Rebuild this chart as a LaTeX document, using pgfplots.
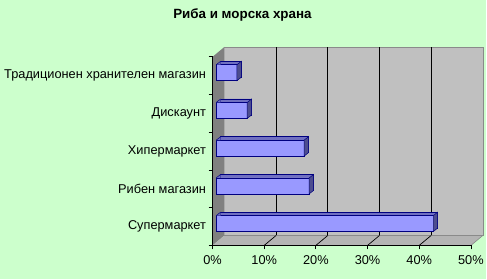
\documentclass[border=0pt]{standalone}
\usepackage{pgfplots}
\pgfplotsset{compat=1.18}
\usepackage{fontspec}
\setmainfont{Liberation Sans}
\definecolor{bg}{HTML}{CCFFCC}
\definecolor{wallc}{HTML}{C0C0C0}
\definecolor{sidewallc}{HTML}{808080}
\definecolor{floorc}{HTML}{B4B4B4}
\definecolor{edgec}{HTML}{8A8A8A}
\definecolor{barfront}{HTML}{9999FF}
\definecolor{bartop}{HTML}{7070C0}
\definecolor{barside}{HTML}{4D4D8F}
\definecolor{navyc}{HTML}{000080}
\pgfdeclareplotmark{barsidemark}{%
  \pgfpathmoveto{\pgfpoint{0pt}{-8pt}}%
  \pgfpathlineto{\pgfpoint{0pt}{8pt}}%
  \pgfpathlineto{\pgfpoint{4.5pt}{11.5pt}}%
  \pgfpathlineto{\pgfpoint{4.5pt}{-4.5pt}}%
  \pgfpathclose
  \pgfusepathqfillstroke}
\pgfdeclareplotmark{barcapmark}{%
  \pgfpathmoveto{\pgfpoint{0pt}{8pt}}%
  \pgfpathlineto{\pgfpoint{4.5pt}{11.5pt}}%
  \pgfpathlineto{\pgfpoint{4.5pt}{8pt}}%
  \pgfpathclose
  \pgfusepathqfill
  \pgfpathmoveto{\pgfpoint{0pt}{8pt}}%
  \pgfpathlineto{\pgfpoint{4.5pt}{11.5pt}}%
  \pgfusepathqstroke}
\pgfplotstableread{
v y
42 0.5
18 1.5
17 2.5
6 3.5
4 4.5
}\datatable
\begin{document}
\begin{tikzpicture}[x=1pt,y=1pt]
\fill[bg] (0,0) rectangle (487,280);
\node[font=\bfseries\fontsize{13.4}{15}\selectfont] at (243,265) {Риба и морска храна};
\begin{axis}[
  at={(213pt,34pt)}, anchor=south west,
  scale only axis, width=259pt, height=189pt,
  xmin=0, xmax=50, ymin=0, ymax=5,
  clip=false, axis on top,
  axis x line*=bottom, axis y line*=left,
  axis line style={black, line width=0.8pt, -},
  tick align=outside, major tick length=4pt,
  tick style={black, line width=0.8pt},
  xtick={0,10,20,30,40,50},
  xticklabels={0\%,10\%,20\%,30\%,40\%,50\%},
  ytick={0,1,2,3,4,5}, yticklabels={},
  extra y ticks={0.5,1.5,2.5,3.5,4.5},
  extra y tick labels={Супермаркет,Рибен магазин,Хипермаркет,Дискаунт,Традиционен хранителен магазин},
  extra y tick style={major tick length=0pt},
  ticklabel style={font=\fontsize{12.8}{15}\selectfont, black},
  xticklabel style={yshift=-2.5pt},
  yticklabel style={xshift=-3pt},
]
% walls and floor
\fill[wallc] ([shift={(12pt,10pt)}]axis cs:0,0) rectangle ([shift={(12pt,10pt)}]axis cs:50,5);
\fill[sidewallc] (axis cs:0,0) -- (axis cs:0,5) -- ([shift={(12pt,10pt)}]axis cs:0,5) -- ([shift={(12pt,10pt)}]axis cs:0,0) -- cycle;
\fill[floorc] (axis cs:0,0) -- ([shift={(12pt,10pt)}]axis cs:0,0) -- ([shift={(12pt,10pt)}]axis cs:50,0) -- (axis cs:50,0) -- cycle;
\draw[edgec, line width=0.6pt] ([shift={(12pt,10pt)}]axis cs:0,0) -- ([shift={(12pt,10pt)}]axis cs:50,0) -- ([shift={(12pt,10pt)}]axis cs:50,5) -- ([shift={(12pt,10pt)}]axis cs:0,5);
\draw[edgec, line width=0.6pt] (axis cs:50,0) -- ([shift={(12pt,10pt)}]axis cs:50,0);
\pgfplotsinvokeforeach{10,20,30,40}{
  \draw[black, line width=0.7pt] ([shift={(12pt,10pt)}]axis cs:#1,0) -- ([shift={(12pt,10pt)}]axis cs:#1,5);
  \draw[black, line width=0.7pt] (axis cs:#1,0) -- ([shift={(12pt,10pt)}]axis cs:#1,0);
}
% bars
\addplot[xbar, bar shift=0pt, bar width=16pt, fill=bartop, draw=navyc, line width=0.5pt, xshift=8.2pt, yshift=6.5pt] table[x=v, y=y] {\datatable};
\addplot[xbar, bar shift=0pt, bar width=16pt, fill=barfront, draw=navyc, line width=0.6pt, xshift=3.7pt, yshift=3pt] table[x=v, y=y] {\datatable};
\addplot[only marks, mark=barsidemark, mark options={fill=barside, draw=navyc, line width=0.5pt}, xshift=3.7pt, yshift=3pt] table[x=v, y=y] {\datatable};
\addplot[only marks, mark=barcapmark, mark options={fill=bartop, draw=navyc, line width=0.5pt}, xshift=3.7pt, yshift=3pt] coordinates {(0,0.5) (0,1.5) (0,2.5) (0,3.5) (0,4.5)};
\end{axis}
\end{tikzpicture}
\end{document}
